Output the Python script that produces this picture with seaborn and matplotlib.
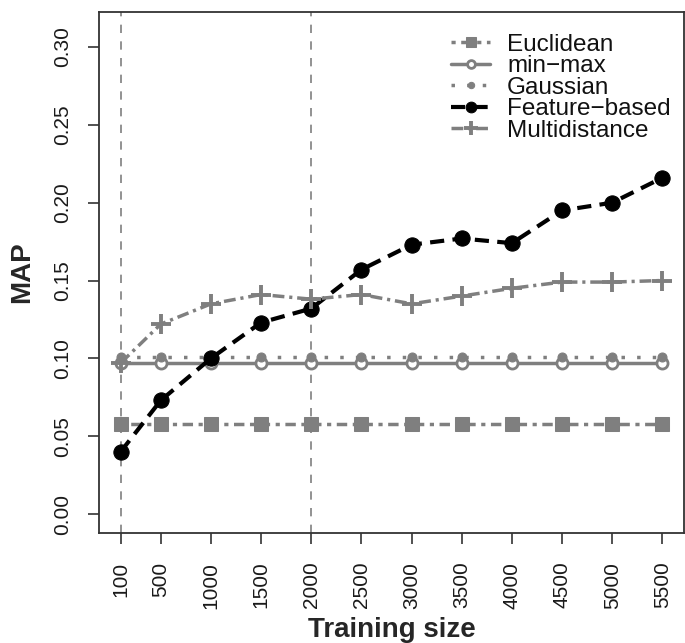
import matplotlib
matplotlib.use("Agg")
import matplotlib.pyplot as plt
import seaborn as sns
import pandas as pd

training_size = [100, 500, 1000, 1500, 2000, 2500, 3000, 3500, 4000, 4500, 5000, 5500]
euclidean = [0.058] * 12
minmax = [0.097] * 12
gaussian = [0.101] * 12
feature_based = [0.040, 0.073, 0.100, 0.123, 0.132, 0.157, 0.173, 0.177, 0.174, 0.195, 0.200, 0.216]
multidistance = [0.097, 0.122, 0.135, 0.141, 0.138, 0.141, 0.135, 0.140, 0.145, 0.149, 0.149, 0.150]
vlines_at = [100, 2000]
yticks = [0.00, 0.05, 0.10, 0.15, 0.20, 0.25, 0.30]

sns.set_style("white")
plt.rcParams['font.family'] = ['Liberation Sans', 'DejaVu Sans']

fig = plt.figure(figsize=(6.85, 6.43), dpi=100)
ax = fig.add_axes([99 / 685, 110 / 643, 585 / 685, 521 / 643])

gray = "#7f7f7f"
for v in vlines_at:
    ax.axvline(v, color=gray, lw=1.2, ls=(0, (5, 5)), zorder=1)

series = [
    ("Euclidean", euclidean, dict(color=gray, marker="s", markersize=10, mec=gray,
                                  linestyle=(0, (1.2, 1.6, 3.0, 1.6)), lw=2.5)),
    ("min\u2212max", minmax, dict(color=gray, marker="o", markersize=8, markerfacecolor="white",
                                  markeredgewidth=2, mec=gray, linestyle="-", lw=2.5)),
    ("Gaussian", gaussian, dict(color=gray, marker="o", markersize=6.5, mec=gray,
                                linestyle=(0, (1, 3.5)), lw=2.5)),
    ("Feature\u2212based", feature_based, dict(color="black", marker="o", markersize=11, mec="black",
                                               linestyle=(0, (3.4, 2.0)), lw=3)),
    ("Multidistance", multidistance, dict(color=gray, marker="+", markersize=14, markeredgewidth=2.8, mec=gray,
                                          linestyle=(0, (3.4, 1.4, 0.9, 1.4)), lw=2.5)),
]

for name, vals, kw in series:
    df = pd.DataFrame({"size": training_size, "MAP": vals})
    sns.lineplot(data=df, x="size", y="MAP", ax=ax, label=name, zorder=3, **kw)

ax.set_xlim(-116, 5716)
ax.set_ylim(-0.0122, 0.3225)
ax.set_xticks(training_size)
ax.set_xticklabels([str(t) for t in training_size], rotation=90, fontsize=15)
ax.set_yticks(yticks)
ax.set_yticklabels([f"{t:.2f}" for t in yticks], rotation=90, va="center", fontsize=15)
ax.tick_params(axis="both", direction="out", length=8.2, width=1.2, color="#333333",
               labelcolor="#1a1a1a", left=True, bottom=True)
ax.tick_params(axis="x", pad=12.5)
ax.tick_params(axis="y", pad=11)
for s in ax.spines.values():
    s.set_color("#333333")
    s.set_linewidth(1.3)

ax.set_xlabel("Training size", fontsize=20, fontweight="bold", labelpad=6)
ax.set_ylabel("MAP", fontsize=20, fontweight="bold", labelpad=13)

leg = ax.legend(loc="upper right", frameon=False, fontsize=17.5, handlelength=1.6,
                handletextpad=0.7, labelspacing=-0.02, borderaxespad=0.15, markerscale=0.7,
                bbox_to_anchor=(1.0, 0.984))
for t in leg.get_texts():
    t.set_color("#111111")

fig.savefig("out.png", dpi=100)
